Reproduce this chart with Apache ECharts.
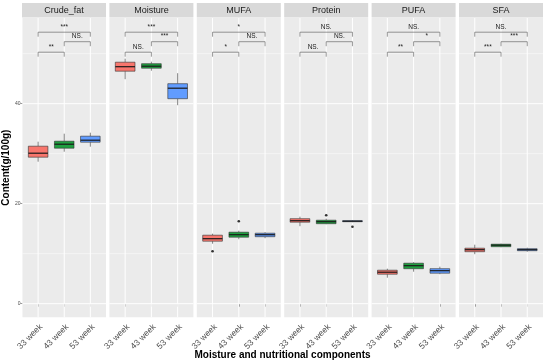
<!DOCTYPE html>
<html><head><meta charset="utf-8">
<script src="https://cdn.jsdelivr.net/npm/echarts@6/dist/echarts.min.js"></script>
<style>html,body{margin:0;padding:0;background:#fff}#c{width:550px;height:364px}</style>
</head><body><div id="c"></div>
<script>
const facets = ['Crude_fat', 'Moisture', 'MUFA', 'Protein', 'PUFA', 'SFA'];
const weeks = ['33 week', '43 week', '53 week'];
// [min, Q1, median, Q3, max] for 33 / 43 / 53 week
const crudeFat = [[28.4, 29.3, 30.1, 31.5, 32.4], [30.4, 31.1, 31.9, 32.5, 34.0], [31.4, 32.3, 32.7, 33.5, 34.2]];
const moisture = [[44.9, 46.5, 47.4, 48.3, 49.0], [46.6, 47.1, 47.5, 48.0, 48.4], [39.7, 41.0, 43.1, 44.0, 46.1]];
const mufa = [[12.0, 12.5, 13.0, 13.7, 14.0], [12.9, 13.3, 13.8, 14.3, 14.6], [13.1, 13.4, 13.8, 14.1, 14.3]];
const protein = [[15.5, 16.3, 16.6, 17.0, 17.4], [15.9, 16.0, 16.4, 16.7, 17.0], [16.3, 16.4, 16.5, 16.6, 16.7]];
const pufa = [[5.2, 5.9, 6.3, 6.7, 7.0], [6.4, 7.0, 7.6, 8.1, 8.3], [5.9, 6.1, 6.6, 7.0, 7.4]];
const sfa = [[9.9, 10.4, 10.8, 11.1, 11.8], [11.3, 11.4, 11.7, 11.9, 12.0], [10.4, 10.6, 10.8, 11.0, 11.2]];
// outliers: [week index, value]
const outCrudeFat = [];
const outMoisture = [];
const outMufa = [[0, 10.5], [1, 16.5]];
const outProtein = [[1, 17.7], [2, 15.4]];
const outPufa = [];
const outSfa = [];
// significance comparisons (week positions) and labels
const comparisons = [[1, 3], [2, 3], [1, 2]];
const bracketLevels = [54.3, 52.4, 50.3];
const sigCrudeFat = ['***', 'NS.', '**'];
const sigMoisture = ['***', '***', 'NS.'];
const sigMufa = ['*', 'NS.', '*'];
const sigProtein = ['NS.', 'NS.', 'NS.'];
const sigPufa = ['NS.', '*', '**'];
const sigSfa = ['NS.', '***', '***'];
const yTicks = [0, 20, 40];
const yMinorTicks = [10, 30, 50];

const boxData = [crudeFat, moisture, mufa, protein, pufa, sfa];
const outData = [outCrudeFat, outMoisture, outMufa, outProtein, outPufa, outSfa];
const sigData = [sigCrudeFat, sigMoisture, sigMufa, sigProtein, sigPufa, sigSfa];

const weekColors = ['#F8766D', '#1E9F3F', '#619CFF'];
const FONT = 'Liberation Sans, Arial, sans-serif';
const tipLength = 0.9;
const yMin = -2.72, yMax = 57.14;
const panelLeft0 = 22, panelStep = 87.4, panelW = 84, panelTop = 18, panelH = 299.3;

const chart = echarts.init(document.getElementById('c'), null, {renderer: 'canvas'});
const grids = [], xAxes = [], yAxes = [], series = [], graphics = [];

facets.forEach((name, i) => {
  const left = panelLeft0 + i * panelStep;
  grids.push({left: left, top: panelTop, width: panelW, height: panelH, show: true,
    backgroundColor: '#EBEBEB', borderWidth: 0, containLabel: false});
  xAxes.push({type: 'value', gridIndex: i, min: 0.4, max: 3.6,
    axisLine: {show: false}, splitLine: {show: false},
    axisTick: {show: true, customValues: [1, 2, 3], length: 3, lineStyle: {color: '#333', width: 0.6}},
    axisLabel: {show: true, customValues: [1, 2, 3], rotate: 45, fontSize: 8.5, color: '#4D4D4D',
      fontFamily: FONT, margin: 5, verticalAlign: 'top', formatter: v => weeks[Math.round(v) - 1]}});
  yAxes.push({type: 'value', gridIndex: i, min: yMin, max: yMax,
    axisLine: {show: false}, splitLine: {show: false},
    axisTick: {show: i === 0, customValues: yTicks, length: 2, lineStyle: {color: '#333', width: 0.5}},
    axisLabel: {show: i === 0, customValues: yTicks, fontSize: 5, color: '#4D4D4D', fontFamily: FONT, margin: 2},
    name: i === 0 ? 'Content(g/100g)' : '', nameLocation: 'middle', nameGap: 7,
    nameTextStyle: {fontSize: 10, fontWeight: 'bold', color: '#000', fontFamily: FONT}});

  // grid lines
  const gl = [];
  yTicks.forEach(v => gl.push([0, v, 1.0]));
  yMinorTicks.forEach(v => gl.push([0, v, 0.5]));
  [1, 2, 3].forEach(v => gl.push([1, v, 1.0]));
  series.push({type: 'custom', xAxisIndex: i, yAxisIndex: i, z: 1, silent: true, clip: false,
    data: gl,
    renderItem: (params, api) => {
      const cs = params.coordSys;
      const kind = api.value(0), v = api.value(1), w = api.value(2);
      if (kind === 0) {
        const y = api.coord([1, v])[1];
        return {type: 'line', shape: {x1: cs.x, y1: y, x2: cs.x + cs.width, y2: y},
          style: {stroke: '#FFFFFF', lineWidth: w}};
      }
      const x = api.coord([v, 0])[0];
      return {type: 'line', shape: {x1: x, y1: cs.y, x2: x, y2: cs.y + cs.height},
        style: {stroke: '#FFFFFF', lineWidth: w}};
    }});

  // boxes
  const bd = boxData[i].map((b, k) => [k + 1, b[0], b[1], b[2], b[3], b[4], k]);
  series.push({type: 'custom', xAxisIndex: i, yAxisIndex: i, z: 3, silent: true,
    data: bd, encode: {x: 0, y: [1, 2, 3, 4, 5]},
    renderItem: (params, api) => {
      const x = api.value(0);
      const pMin = api.coord([x, api.value(1)]);
      const pQ1 = api.coord([x, api.value(2)]);
      const pMed = api.coord([x, api.value(3)]);
      const pQ3 = api.coord([x, api.value(4)]);
      const pMax = api.coord([x, api.value(5)]);
      const half = api.size([0.75, 0])[0] / 2;
      const col = weekColors[api.value(6)];
      const line = {stroke: '#333333', lineWidth: 0.6};
      return {type: 'group', children: [
        {type: 'line', shape: {x1: pMin[0], y1: pMin[1], x2: pQ1[0], y2: pQ1[1]}, style: line},
        {type: 'line', shape: {x1: pQ3[0], y1: pQ3[1], x2: pMax[0], y2: pMax[1]}, style: line},
        {type: 'rect', shape: {x: pQ3[0] - half, y: pQ3[1], width: 2 * half, height: Math.max(pQ1[1] - pQ3[1], 0.5)},
          style: {fill: col, stroke: '#333333', lineWidth: 0.6}},
        {type: 'line', shape: {x1: pMed[0] - half, y1: pMed[1], x2: pMed[0] + half, y2: pMed[1]},
          style: {stroke: '#1A1A1A', lineWidth: 1.2}}
      ]};
    }});

  // outliers
  series.push({type: 'scatter', xAxisIndex: i, yAxisIndex: i, z: 4, silent: true,
    symbol: 'circle', symbolSize: 2.6, itemStyle: {color: '#000'},
    data: outData[i].map(o => [o[0] + 1, o[1]])});

  // significance brackets
  const labels = sigData[i];
  series.push({type: 'custom', xAxisIndex: i, yAxisIndex: i, z: 5, silent: true, clip: false,
    data: comparisons.map((c, k) => [c[0], c[1], bracketLevels[k]]),
    renderItem: (params, api) => {
      const x1 = api.value(0), x2 = api.value(1), lv = api.value(2);
      const a = api.coord([x1, lv - tipLength]), b = api.coord([x1, lv]);
      const c = api.coord([x2, lv]), d = api.coord([x2, lv - tipLength]);
      return {type: 'group', children: [
        {type: 'polyline', shape: {points: [a, b, c, d]}, style: {stroke: '#555555', lineWidth: 0.6, fill: null}},
        {type: 'text', x: (b[0] + c[0]) / 2, y: b[1] - 1.5,
          style: {text: labels[params.dataIndex], fill: '#1A1A1A', fontSize: 6.5, fontFamily: FONT,
            align: 'center', verticalAlign: 'bottom'}}
      ]};
    }});

  // facet strip
  graphics.push({type: 'rect', left: left, top: 3, shape: {width: panelW, height: 14.5},
    style: {fill: '#D9D9D9'}, silent: true});
  graphics.push({type: 'text', x: left + panelW / 2, y: 10.5,
    style: {text: name, fill: '#1A1A1A', fontSize: 9, fontFamily: FONT, align: 'center', verticalAlign: 'middle'}, silent: true});
});

graphics.push({type: 'text', x: panelLeft0 + (5 * panelStep + panelW) / 2, y: 355,
  style: {text: 'Moisture and nutritional components', fill: '#000', fontSize: 10, fontWeight: 'bold',
    fontFamily: FONT, align: 'center', verticalAlign: 'middle'}, silent: true});

chart.setOption({
  animation: false,
  backgroundColor: '#FFFFFF',
  grid: grids, xAxis: xAxes, yAxis: yAxes, series: series, graphic: graphics
});
</script></body></html>
